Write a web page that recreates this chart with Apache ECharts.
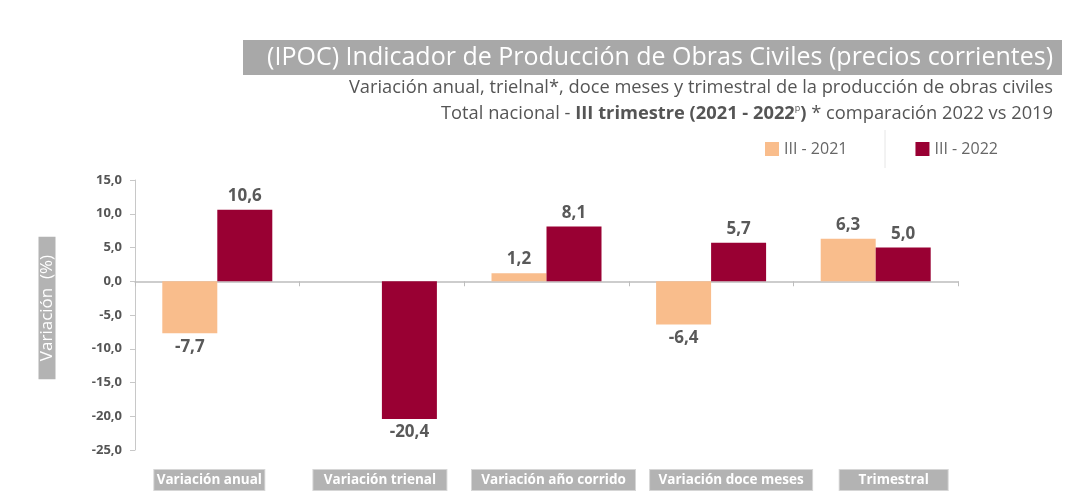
<!DOCTYPE html>
<html><head><meta charset="utf-8">
<script src="https://cdn.jsdelivr.net/npm/echarts@6/dist/echarts.min.js"></script>
<style>html,body{margin:0;padding:0;background:#fff}#c{width:1087px;height:501px}</style>
</head><body><div id="c"></div>
<script>
const categories = ['Variación anual','Variación trienal','Variación año corrido','Variación doce meses','Trimestral'];
const seriesNames = ['III - 2021','III - 2022'];
const values2021 = [-7.7, null, 1.2, -6.4, 6.3];
const values2022 = [10.6, -20.4, 8.1, 5.7, 5.0];
const yTicks = {min: -25, max: 15, interval: 5};
const titleText = '(IPOC) Indicador de Producción de Obras Civiles (precios corrientes)';
const subLine1 = 'Variación anual, trielnal*, doce meses y trimestral de la producción de obras civiles';
const yName = 'Variación  (%)';

const FONT = 'Open Sans';
const fmt = v => v.toFixed(1).replace('.', ',');
function mk(arr){
  return arr.map(v => v === null ? null : ({value: v, label: {position: v < 0 ? 'bottom' : 'top'}}));
}
const labelBoxW = [110, 133, 163, 162, 108];
const labelShift = [-16, -4, 14, 40, 36];
const rich = {};
labelBoxW.forEach((w,i)=>{
  rich['b'+i] = {width: w, height: 20, align:'center', backgroundColor:'#b3b3b3', color:'#fff', fontFamily: FONT, fontSize: 13.5, fontWeight:'bold', borderColor:'#d6d6d6', borderWidth:1};
});
labelShift.forEach((s,i)=>{ rich['p'+i] = {width: Math.abs(s), height: 20}; });

const chart = echarts.init(document.getElementById('c'), null, {renderer:'canvas'});
chart.setOption({
  backgroundColor:'#fff',
  animation:false,
  textStyle:{fontFamily: FONT},
  graphic:[
    {type:'rect', shape:{x:243, y:40, width:819, height:35}, style:{fill:'#a8a8a8'}, silent:true},
    {type:'line', shape:{x1:885, y1:130, x2:885, y2:168}, style:{stroke:'#e6e6e6', lineWidth:1}},
    {type:'text', x:47, y:308, rotation: Math.PI/2,
      style:{text: yName, fill:'#fff', fontSize:17, fontFamily: FONT, align:'center', verticalAlign:'middle',
        backgroundColor:'#b3b3b3', padding:[0,18,0,18]}}
  ],
  title:[
    {text: titleText, right: 29, top: 40, textStyle:{color:'#fff', fontSize:25, fontWeight:'normal', fontFamily: FONT}},
    {text: subLine1, right: 29, top: 74, textStyle:{color:'#555', fontSize:18.3, fontWeight:'normal', fontFamily: FONT}},
    {text: 'Total nacional - {b|III trimestre (2021 - 2022}{sup|p}{b|)} * comparación 2022 vs 2019', right: 29, top: 99,
      textStyle:{color:'#555', fontSize:18.3, fontWeight:'normal', fontFamily: FONT,
        rich:{b:{fontWeight:'bold', fontSize:18.3, color:'#555', fontFamily: FONT}, sup:{fontSize:9, verticalAlign:'top', color:'#555', padding:[0,0,11,0], fontFamily: FONT}}}}
  ],
  legend:{
    left: 760, top: 136, itemWidth: 14, itemHeight: 14, itemGap: 68, icon:'rect',
    textStyle:{color:'#666', fontSize:16, fontFamily: FONT},
    data: seriesNames
  },
  grid:{left:135, right:129, top:180, bottom:51, containLabel:false},
  xAxis:[
    {type:'category', data: categories, axisLine:{onZero:true, lineStyle:{color:'#bdbdbd', width:1.5}},
      axisTick:{show:true, length:5, lineStyle:{color:'#bdbdbd'}}, axisLabel:{show:false}},
    {type:'category', data: categories, position:'bottom', axisLine:{show:false, onZero:false}, axisTick:{show:false},
      axisLabel:{show:true, interval:0, margin: 20, rich: rich,
        formatter:(v)=>{const i = categories.indexOf(v); const s = labelShift[i];
          return s > 0 ? `{p${i}|}{b${i}|${v}}` : `{b${i}|${v}}{p${i}|}`;}}}
  ],
  yAxis:{
    type:'value', min: yTicks.min, max: yTicks.max, interval: yTicks.interval,
    axisLine:{show:true, lineStyle:{color:'#c8c8c8'}}, axisTick:{show:true, length:5, lineStyle:{color:'#c8c8c8'}},
    splitLine:{show:false},
    axisLabel:{formatter: v => fmt(v), color:'#555', fontSize:13, fontWeight:'bold', fontFamily: FONT, margin: 13}
  },
  series:[
    {name: seriesNames[0], type:'bar', xAxisIndex:0, data: mk(values2021), barWidth:55, barGap:'0%',
      itemStyle:{color:'#F9BD8C'},
      label:{show:true, formatter: p => fmt(p.value), color:'#595959', fontSize:17, fontWeight:'bold', fontFamily: FONT, distance:5}},
    {name: seriesNames[1], type:'bar', xAxisIndex:0, data: mk(values2022), barWidth:55, barGap:'0%',
      itemStyle:{color:'#990033'},
      label:{show:true, formatter: p => fmt(p.value), color:'#595959', fontSize:17, fontWeight:'bold', fontFamily: FONT, distance:5}}
  ]
});
</script></body></html>
